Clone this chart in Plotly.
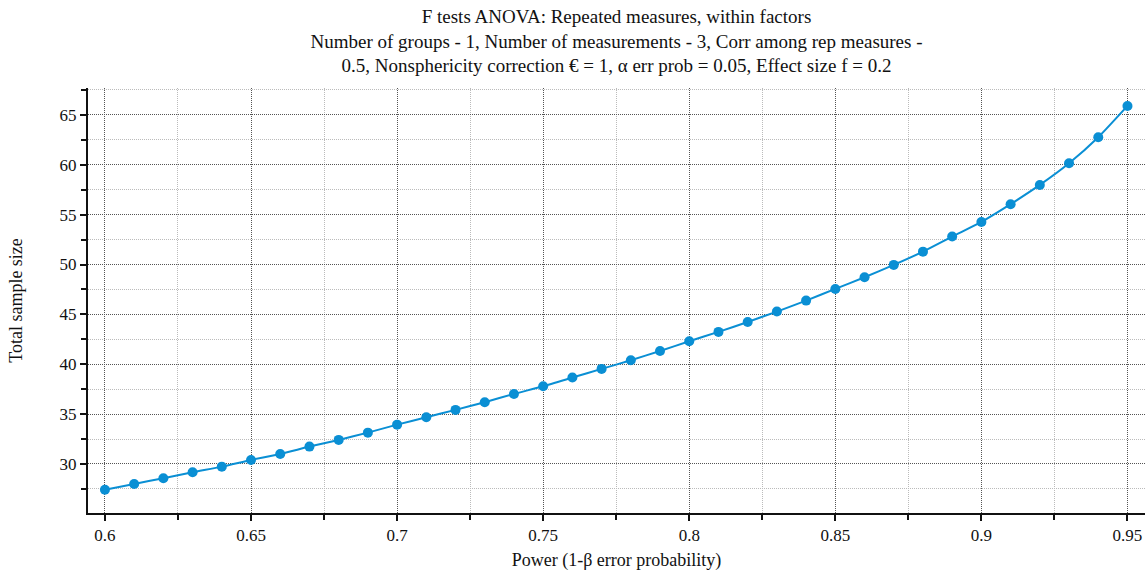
import plotly.graph_objects as go

power = [0.60, 0.61, 0.62, 0.63, 0.64, 0.65, 0.66, 0.67, 0.68, 0.69,
         0.70, 0.71, 0.72, 0.73, 0.74, 0.75, 0.76, 0.77, 0.78, 0.79,
         0.80, 0.81, 0.82, 0.83, 0.84, 0.85, 0.86, 0.87, 0.88, 0.89,
         0.90, 0.91, 0.92, 0.93, 0.94, 0.95]
total_n = [27.42, 27.99, 28.57, 29.17, 29.73, 30.40, 31.00, 31.74, 32.41, 33.14,
           33.94, 34.68, 35.42, 36.19, 37.02, 37.79, 38.66, 39.53, 40.40, 41.33,
           42.31, 43.24, 44.24, 45.28, 46.38, 47.55, 48.72, 49.96, 51.29, 52.80,
           54.27, 56.05, 57.98, 60.15, 62.76, 65.90]
x_ticks = [0.6, 0.65, 0.7, 0.75, 0.8, 0.85, 0.9, 0.95]
x_tick_text = ["0.6", "0.65", "0.7", "0.75", "0.8", "0.85", "0.9", "0.95"]
y_ticks = [30, 35, 40, 45, 50, 55, 60, 65]

title_text = ("F tests ANOVA: Repeated measures, within factors<br>"
              "Number of groups - 1, Number of measurements - 3, Corr among rep measures -<br>"
              "0.5, Nonsphericity correction € = 1, α err prob = 0.05, Effect size f = 0.2")

FONT = "Liberation Serif"
color = "#0a8fd4"

fig = go.Figure()
fig.add_trace(go.Scatter(
    x=power, y=total_n, mode="lines+markers",
    line=dict(color=color, width=2, shape="spline", smoothing=0.6),
    marker=dict(color=color, size=10),
    showlegend=False,
))

fig.update_layout(
    width=1147, height=571,
    margin=dict(l=88, r=2, t=88, b=58),
    paper_bgcolor="white", plot_bgcolor="white",
    font=dict(family=FONT, size=18, color="#111"),
    title=dict(text=title_text, x=0.5375, xanchor="center",
               y=1 - 23 / 571, yanchor="middle",
               font=dict(family=FONT, size=19, color="#111")),
)
fig.update_xaxes(
    range=[0.5942, 0.956], tickvals=x_ticks, ticktext=x_tick_text,
    showline=True, linecolor="#111", linewidth=2, mirror=False,
    ticks="outside", ticklen=6, tickwidth=1.5, tickcolor="#111",
    showgrid=True, gridcolor="#555", griddash="1px,1px", gridwidth=1,
    zeroline=False,
    minor=dict(dtick=0.025, tick0=0.6, ticks="outside", ticklen=5, tickcolor="#111",
               showgrid=True, gridcolor="#bbb", griddash="1px,1px", gridwidth=1),
    title=dict(text="Power (1-β error probability)", font=dict(family=FONT, size=18), standoff=11),
    tickfont=dict(family=FONT, size=17),
)
fig.update_yaxes(
    range=[25.08, 67.7], tickvals=y_ticks,
    showline=True, linecolor="#111", linewidth=2, mirror=False,
    ticks="outside", ticklen=6, tickwidth=1.5, tickcolor="#111",
    showgrid=True, gridcolor="#555", griddash="1px,1px", gridwidth=1,
    zeroline=False,
    minor=dict(dtick=2.5, tick0=25, ticks="outside", ticklen=5, tickcolor="#111",
               showgrid=True, gridcolor="#bbb", griddash="1px,1px", gridwidth=1),
    title=dict(text="Total sample size", font=dict(family=FONT, size=18), standoff=32),
    tickfont=dict(family=FONT, size=17),
)

fig.write_html("out.html", config={"displayModeBar": False},
               post_script="document.body.style.margin='0';document.body.style.overflow='hidden';")
